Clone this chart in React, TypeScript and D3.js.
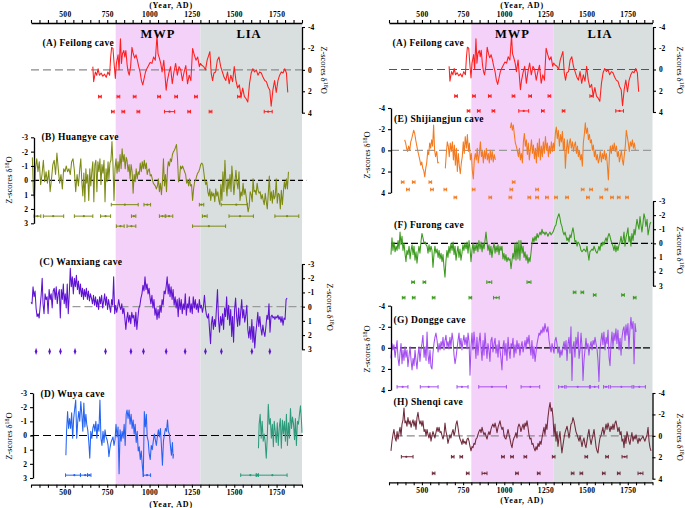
import React, { useEffect, useRef } from "react";
import * as d3 from "d3";

type Pt = [number, number];
type Bar = [number, number, number, number]; // lo, mid, hi, row (z)

// ---------- axis ticks ----------
const yearTicks = [300,350,400,450,500,550,600,650,700,750,800,850,900,950,1000,1050,1100,1150,1200,1250,1300,1350,1400,1450,1500,1550,1600,1650,1700,1750,1800,1850,1900];
const yearLabels = [500,750,1000,1250,1500,1750];
const ticks4 = [-4,-2,0,2,4];
const ticks3 = [-3,-2,-1,0,1,2,3];
const periods = [
  { name: "MWP", start: 800, end: 1300 },
  { name: "LIA", start: 1300, end: 1900 },
];

// ---------- (A) Feilong ----------
const feilong: Pt[] = [[665,-0.3],[670,1.1],[680,0.2],[688,0.5],[696,-0.1],[704,0.5],[714,0.3],[724,0.6],[734,0.4],[744,0.7],[754,0.2],[764,0.5],[770,-1.1],[776,-2.1],[784,-2.0],[792,-0.3],[798,0.8],[804,-0.6],[814,-1.4],[820,0.0],[828,-2.9],[834,-0.6],[840,-1.5],[848,-1.8],[854,-1.2],[860,-1.8],[868,-0.4],[874,0.2],[880,0.5],[888,-0.3],[896,-2.1],[904,-1.5],[912,-1.1],[920,-1.4],[928,-0.9],[936,-0.3],[944,0.2],[952,1.0],[960,1.4],[968,0.8],[976,0.2],[984,-0.1],[994,-0.4],[1004,-0.7],[1014,-0.6],[1024,-1.2],[1034,-0.9],[1044,-3.2],[1050,-1.5],[1058,-1.1],[1066,-0.6],[1074,0.2],[1084,-0.9],[1092,0.7],[1098,1.9],[1104,1.1],[1114,0.3],[1124,-0.3],[1134,1.3],[1144,0.2],[1154,-0.6],[1164,0.5],[1174,-0.3],[1184,0.0],[1194,1.0],[1204,0.2],[1214,-0.4],[1224,1.3],[1234,0.5],[1244,1.0],[1254,-2.0],[1264,-1.4],[1274,-0.9],[1284,-1.2],[1294,-0.3],[1300,-0.6],[1310,-0.4],[1320,-0.3],[1330,0.0],[1340,-0.9],[1350,-1.4],[1356,-1.7],[1364,0.3],[1372,1.0],[1380,0.3],[1390,0.2],[1400,-0.9],[1410,-1.2],[1420,-0.3],[1430,0.2],[1440,0.7],[1450,1.0],[1460,0.2],[1470,1.3],[1480,0.5],[1490,1.1],[1500,-0.3],[1510,1.0],[1520,1.7],[1530,1.4],[1540,2.5],[1550,1.7],[1560,2.5],[1570,2.7],[1580,3.0],[1590,1.3],[1600,0.3],[1610,-0.1],[1620,0.2],[1630,0.0],[1640,0.5],[1650,0.2],[1660,0.3],[1670,0.7],[1680,1.0],[1690,1.1],[1700,1.6],[1710,1.9],[1718,3.4],[1728,1.9],[1738,1.0],[1748,2.1],[1758,1.0],[1768,0.5],[1778,0.2],[1788,0.3],[1798,-0.1],[1808,0.3],[1816,2.1]];
const feilongAges: Bar[] = [[699,707,715,2.5],[808,816,824,2.5],[904,912,920,2.5],[1048,1056,1064,2.5],[1149,1157,1165,2.5],[1266,1274,1282,2.5],[1520,1530,1540,2.5],[775,783,791,3.9],[837,845,853,3.9],[926,934,942,3.9],[1088,1118,1148,3.9],[1226,1234,1242,3.9],[1352,1360,1368,3.9],[1677,1700,1724,3.9]];

// ---------- (B) Huangye ----------
const huangye: Pt[] = [[308,-1.6],[314,0.8],[320,1.3],[326,-0.8],[334,-1.5],[341,-0.6],[349,-1.3],[357,0.3],[365,-0.4],[373,-1.4],[381,0.1],[389,-0.6],[397,0.2],[405,-0.7],[413,0.8],[421,-0.1],[429,-1.1],[437,-1.4],[445,-0.4],[453,-1.9],[461,-0.8],[469,0.2],[477,-0.4],[485,0.6],[493,-0.8],[501,-0.6],[508,-1.0],[516,-0.6],[524,-0.8],[532,-0.4],[540,-1.3],[548,-1.5],[556,-0.7],[564,0.8],[572,-0.4],[580,0.4],[588,-0.8],[594,-1.5],[600,0.1],[606,1.1],[612,-0.5],[618,1.5],[624,-0.8],[629,0.2],[635,-0.4],[641,1.4],[647,-0.8],[653,0.4],[659,-0.6],[665,-1.3],[671,1.5],[677,-1.1],[683,-1.4],[689,0.8],[695,-1.3],[701,-0.6],[707,-1.5],[713,0.3],[719,-1.1],[725,-0.5],[731,-1.4],[737,1.5],[743,-0.8],[749,0.1],[755,-1.3],[760,-0.1],[766,-1.2],[772,-1.4],[778,-2.7],[784,-1.1],[790,1.4],[796,-0.8],[802,-1.5],[808,-0.5],[814,-1.3],[820,-0.6],[826,-1.8],[832,-0.8],[838,-2.2],[844,-1.3],[850,-1.8],[856,-0.8],[862,-1.6],[867,-1.4],[873,-0.6],[879,-1.1],[885,-0.1],[891,-1.1],[897,-0.6],[903,0.9],[909,-0.4],[915,0.1],[921,-0.8],[927,-0.1],[933,-0.6],[939,-0.4],[945,-1.2],[951,-0.6],[957,-1.3],[963,-0.8],[969,-1.4],[975,-0.8],[981,-1.2],[986,-0.4],[992,-0.7],[998,-0.8],[1004,-0.3],[1010,-0.4],[1016,-0.1],[1022,0.2],[1028,0.3],[1034,0.4],[1040,0.6],[1046,0.4],[1052,-0.1],[1058,0.8],[1064,0.2],[1070,1.0],[1076,0.1],[1082,-1.5],[1088,0.4],[1094,-0.4],[1100,0.8],[1106,-0.8],[1111,-1.3],[1117,-1.0],[1123,-1.5],[1129,-1.3],[1135,-1.8],[1141,-2.0],[1147,-2.1],[1153,-2.3],[1159,-2.5],[1165,-1.5],[1171,0.1],[1177,-0.1],[1183,-1.0],[1189,-0.8],[1195,-1.0],[1201,-0.8],[1207,-0.6],[1213,-0.4],[1219,0.2],[1225,0.0],[1231,0.4],[1236,-0.1],[1242,0.4],[1248,0.3],[1254,1.4],[1260,0.6],[1266,0.1],[1272,0.0],[1278,-0.3],[1284,-0.5],[1290,-0.6],[1296,-0.8],[1302,-1.1],[1308,-1.2],[1314,-1.1],[1320,-0.6],[1326,0.0],[1332,0.3],[1338,0.1],[1344,0.8],[1350,1.1],[1356,0.6],[1361,1.4],[1367,0.8],[1373,1.1],[1379,0.9],[1385,1.5],[1391,0.6],[1397,1.1],[1403,0.8],[1409,1.4],[1415,1.7],[1421,0.3],[1427,1.4],[1433,-0.6],[1439,0.8],[1445,-1.4],[1451,0.2],[1457,1.1],[1463,-0.1],[1469,0.6],[1475,-0.4],[1481,0.8],[1486,-1.0],[1492,0.0],[1498,1.0],[1504,0.1],[1510,-0.7],[1516,0.2],[1522,0.6],[1528,-0.6],[1534,1.4],[1540,0.8],[1546,1.1],[1552,0.2],[1558,1.0],[1564,0.6],[1570,1.1],[1576,1.7],[1582,2.2],[1588,1.8],[1594,0.8],[1600,1.0],[1606,1.5],[1611,-0.1],[1617,0.8],[1623,0.7],[1629,1.0],[1635,0.2],[1641,0.7],[1647,0.9],[1653,0.8],[1659,1.3],[1665,1.0],[1671,1.4],[1677,1.7],[1683,0.9],[1689,1.5],[1695,2.0],[1701,0.9],[1707,-0.3],[1713,1.4],[1719,0.8],[1725,1.6],[1731,0.7],[1736,1.3],[1742,1.1],[1748,-0.1],[1754,1.6],[1760,0.9],[1766,1.0],[1772,2.0],[1778,0.7],[1784,1.7],[1790,0.8],[1796,0.1],[1802,0.6],[1808,-0.1],[1814,0.6],[1820,-0.6]];
const huangyeAges: Bar[] = [[774,854,933,1.7],[967,987,1006,1.7],[1294,1306,1320,1.7],[1423,1512,1578,1.7],[318,338,358,2.5],[373,431,493,2.5],[556,612,665,2.5],[711,740,770,2.5],[893,907,919,2.5],[1058,1076,1092,2.5],[1096,1115,1137,2.5],[1312,1326,1340,2.5],[1469,1534,1613,2.5],[1740,1812,1881,2.5],[804,828,850,3.2],[867,893,919,3.2],[1254,1350,1449,3.2]];

// ---------- (C) Wanxiang ----------
const wanxiang: Pt[] = [[300,-0.3],[306,-0.2],[312,-1.4],[318,-0.7],[324,-1.1],[330,0.1],[336,0.7],[342,0.5],[348,0.8],[354,0.0],[360,-0.8],[366,-2.0],[371,-0.2],[377,0.5],[383,-0.9],[389,-0.5],[395,-0.7],[401,0.5],[407,-1.2],[413,-0.5],[419,-0.9],[425,0.1],[431,-1.1],[437,-1.3],[443,-0.5],[449,-1.4],[455,-0.2],[461,-0.9],[467,-1.2],[473,0.8],[479,-1.2],[485,-0.5],[491,-1.6],[496,-0.2],[502,-0.9],[508,0.1],[514,-1.6],[520,0.5],[526,-0.9],[532,-2.7],[538,-1.4],[544,-2.1],[550,-0.9],[556,-2.0],[562,-1.4],[568,-2.2],[574,-1.2],[580,-1.8],[586,-0.9],[592,-1.6],[598,-0.7],[604,-1.3],[610,-0.5],[615,-1.2],[621,-0.7],[627,-1.3],[633,-0.5],[639,-1.1],[645,-0.4],[651,-0.9],[657,-0.6],[663,-0.2],[669,-0.8],[675,-0.1],[681,-0.7],[687,0.0],[693,-0.5],[699,0.2],[705,-0.7],[711,-0.2],[717,-0.8],[723,0.1],[729,-0.4],[735,-0.9],[740,-0.1],[746,-0.7],[752,0.2],[758,-0.5],[764,0.0],[770,0.4],[776,-0.5],[782,-0.1],[788,-2.1],[794,0.5],[800,-0.1],[806,0.4],[812,0.0],[818,-0.5],[824,0.0],[830,0.2],[836,-0.2],[842,0.5],[848,0.1],[854,0.8],[860,1.6],[865,0.9],[871,0.4],[877,1.1],[883,0.6],[889,1.2],[895,0.4],[901,0.8],[907,0.6],[913,1.4],[919,0.4],[925,1.6],[931,0.8],[937,0.1],[943,-0.1],[949,-0.6],[955,-0.9],[961,-1.5],[967,-1.1],[973,-2.1],[979,-1.2],[985,-1.6],[991,-0.9],[997,-1.3],[1002,-0.7],[1008,-0.2],[1014,-0.8],[1020,0.1],[1026,-0.5],[1032,0.6],[1038,0.1],[1044,0.9],[1050,0.2],[1056,0.8],[1062,-0.1],[1068,0.4],[1074,-0.5],[1080,-0.1],[1086,-1.1],[1092,-0.9],[1098,-1.4],[1104,-2.1],[1110,-0.9],[1115,-1.6],[1121,-0.7],[1127,-1.4],[1133,-0.5],[1139,-1.2],[1145,-0.1],[1151,-0.7],[1157,0.1],[1163,-0.5],[1169,0.7],[1175,-0.6],[1181,0.2],[1187,-0.5],[1193,0.5],[1199,-0.2],[1205,0.2],[1211,-0.9],[1217,0.6],[1223,-0.2],[1229,0.1],[1235,-0.7],[1240,0.4],[1246,-0.2],[1252,0.5],[1258,-0.7],[1264,0.1],[1270,-0.5],[1276,0.2],[1282,-0.2],[1288,0.4],[1294,-0.5],[1300,0.1],[1306,-0.1],[1312,0.4],[1318,0.0],[1324,-0.8],[1330,0.1],[1336,0.6],[1342,0.8],[1348,0.5],[1354,1.6],[1360,2.6],[1365,1.2],[1371,0.7],[1377,1.6],[1383,0.9],[1389,1.4],[1395,0.1],[1401,-1.2],[1407,0.9],[1413,1.8],[1419,0.7],[1425,1.3],[1431,0.5],[1437,1.6],[1443,0.1],[1449,0.7],[1455,-0.7],[1461,0.9],[1467,-0.1],[1473,1.3],[1479,0.2],[1485,2.1],[1490,0.7],[1496,2.5],[1502,0.2],[1508,-0.6],[1514,0.7],[1520,1.4],[1526,0.1],[1532,1.3],[1538,0.4],[1544,-0.5],[1550,0.8],[1556,0.2],[1562,1.1],[1568,0.6],[1574,-0.1],[1580,1.6],[1586,2.2],[1592,1.4],[1598,2.3],[1604,0.9],[1610,2.5],[1615,1.4],[1621,2.9],[1627,1.9],[1633,1.2],[1639,0.4],[1645,1.4],[1651,0.7],[1657,1.5],[1663,2.0],[1669,1.3],[1675,1.8],[1681,2.1],[1687,1.4],[1693,0.6],[1699,0.9],[1705,-0.2],[1711,1.8],[1717,0.7],[1723,0.6],[1729,0.8],[1735,0.7],[1740,0.9],[1746,0.7],[1752,0.8],[1758,0.6],[1764,0.9],[1770,0.7],[1776,1.1],[1782,0.7],[1788,1.3],[1794,0.8],[1800,0.9],[1806,-0.5],[1812,-0.6]];
const wanxiangAgeYears = [330,410,474,560,740,890,964,1098,1210,1330,1424,1604,1710];
const wanxiangAgeRow = 3.15;

// ---------- (D) Wuya ----------
const wuyaEarly: Pt[] = [[506,1.4],[510,-0.3],[516,-1.7],[522,-0.5],[528,-1.2],[534,-0.5],[540,-1.6],[546,0.2],[552,-1.2],[558,-1.9],[564,-2.5],[570,0.2],[576,-1.0],[582,-1.7],[588,-1.0],[594,-2.4],[600,-1.5],[606,-0.3],[612,-2.3],[618,-0.6],[624,-1.5],[629,-0.8],[635,-0.4],[641,0.4],[647,1.6],[653,-0.3],[659,0.2],[665,-0.5],[671,-0.8],[677,-0.3],[683,-1.0],[689,0.2],[695,-0.8],[701,-0.3],[707,-2.5],[713,0.2],[719,0.7],[725,-0.3],[731,0.5],[737,-0.4],[743,0.1],[749,0.3],[755,0.7],[760,1.5],[766,0.9],[772,0.5],[778,0.3],[784,0.1],[790,0.7],[796,0.3],[802,-0.8],[808,0.1],[814,-0.6],[820,2.7],[826,-0.4],[832,0.4],[838,-0.3],[844,0.2],[850,-0.8],[856,0.7],[862,-1.5],[867,-1.8],[873,-1.2],[879,-1.8],[885,-0.8],[891,-1.5],[897,-0.5],[903,-1.1],[909,-0.1],[915,-0.8],[921,0.5],[927,-0.3],[933,1.1],[939,0.8],[945,1.7],[951,1.1],[957,2.1],[963,2.9],[969,-1.7],[975,-0.6],[981,-1.5],[986,0.1],[992,0.4],[998,1.3],[1004,1.7],[1010,0.7],[1016,1.0],[1022,0.4],[1028,-0.1],[1034,0.3],[1040,0.7],[1046,0.1],[1052,-0.4],[1058,0.1],[1064,-0.5],[1070,0.7],[1076,2.1],[1082,0.4],[1088,-0.1],[1094,-0.5],[1100,-0.3],[1106,-1.1],[1111,-0.3],[1117,-0.1],[1123,0.7],[1129,1.4],[1135,0.5],[1139,1.6],[1141,1.3]];
const wuyaLate: Pt[] = [[1643,0.9],[1647,-0.8],[1653,-1.5],[1659,0.2],[1665,-1.0],[1671,0.4],[1677,-0.1],[1683,0.5],[1689,1.6],[1695,0.1],[1701,-2.2],[1707,-0.8],[1713,-1.2],[1719,0.2],[1725,-0.8],[1731,0.8],[1736,-1.0],[1742,-0.3],[1748,0.5],[1754,-0.9],[1760,0.7],[1766,-0.6],[1772,-1.2],[1778,0.9],[1784,-1.1],[1790,-0.1],[1796,-1.0],[1802,0.4],[1808,-1.5],[1814,0.7],[1820,-0.9],[1826,0.2],[1832,-1.9],[1838,-0.5],[1844,-1.3],[1850,-0.8],[1856,0.3],[1861,-1.2],[1867,0.7],[1873,-1.0],[1879,-0.8],[1885,-1.5],[1891,-2.1],[1897,-1.0],[1900,-0.2]];
const wuyaEarlyAges: Bar[] = [[504,556,592,2.8],[592,620,634,2.8],[634,644,654,2.8],[963,985,1006,2.8]];
const wuyaLateAges: Bar[] = [[1538,1595,1630,2.8],[1630,1636,1642,2.8],[1642,1725,1812,2.8]];

// ---------- (E) Shijiangjun ----------
const shijiangjun1: Pt[] = [[395,-1.0],[401,-0.7],[407,-0.2],[413,0.1],[419,-0.4],[426,0.0],[432,-0.8],[438,-1.1],[444,-1.5],[450,-1.9],[456,-1.6],[462,-1.0],[468,-0.5],[474,0.0],[480,0.4],[487,0.9],[493,1.4],[499,1.1],[505,1.7],[511,1.9],[517,2.5],[523,1.7],[529,1.2],[535,0.1],[541,0.4],[547,-0.7],[553,-0.2],[559,-1.0],[565,-0.4],[571,-2.4],[577,0.0],[583,0.6],[590,0.1],[596,1.2],[602,1.1]];
const shijiangjun2: Pt[] = [[642,1.7],[648,0.3],[654,-0.8],[660,-0.4],[666,0.6],[672,-0.7],[678,0.1],[685,-0.8],[691,0.9],[697,-0.5],[703,1.4],[709,-0.2],[715,2.0],[721,0.3],[727,1.5],[733,2.2],[739,1.2],[745,0.6],[751,-0.8],[757,0.3],[763,-1.3],[770,-0.2],[776,-1.5],[782,0.1],[788,-0.7],[794,0.9],[800,0.3],[806,1.9],[812,2.7],[818,0.9],[824,0.3],[830,0.9],[836,-0.2],[842,1.2],[848,0.4],[855,-0.8],[861,0.6],[867,0.1],[873,1.2],[879,0.0],[885,0.8],[891,-0.2],[897,0.9],[903,0.3],[909,1.2],[915,0.0],[921,0.9],[927,0.1],[933,1.1],[939,0.4],[946,0.9]];
const shijiangjun3: Pt[] = [[1037,-2.1],[1043,-2.6],[1049,-1.9],[1055,-2.4],[1061,-1.5],[1067,-0.7],[1073,-0.4],[1080,0.1],[1086,0.6],[1092,-0.2],[1098,0.9],[1104,0.3],[1110,1.2],[1116,-0.8],[1122,-1.6],[1128,-0.4],[1134,-1.0],[1140,0.4],[1146,-0.7],[1152,0.9],[1158,0.0],[1165,-1.0],[1171,0.3],[1177,-0.5],[1183,0.8],[1189,-0.2],[1195,1.2],[1201,-0.7],[1207,0.6],[1213,-1.1],[1219,0.9],[1225,-0.4],[1231,0.6],[1237,-0.8],[1243,0.3],[1250,-1.3],[1256,0.0],[1262,-0.7],[1268,0.6],[1274,-0.4],[1280,0.3],[1286,-0.8],[1292,0.1],[1298,-0.7],[1304,0.0],[1310,-1.6],[1316,-2.2],[1322,-1.1],[1328,-1.9],[1335,-0.4],[1341,-1.5],[1347,-0.8],[1353,-1.8],[1359,0.0],[1365,-1.1],[1371,1.7],[1377,0.0],[1383,-1.0],[1389,0.3],[1395,-0.7],[1401,-1.1],[1407,-0.2],[1414,-0.8],[1420,0.1],[1426,-0.5],[1432,-0.8],[1438,0.3],[1444,-0.4],[1450,0.6],[1456,0.0],[1462,0.9],[1468,0.4],[1474,1.5],[1480,-0.7],[1486,-1.5],[1492,-2.6],[1498,-1.6],[1505,-2.1],[1511,-1.0],[1517,-1.5],[1523,-0.7],[1529,-1.0],[1535,0.0],[1541,-0.5],[1547,0.6],[1553,0.0],[1559,0.9],[1565,0.4],[1571,1.2],[1577,0.8],[1583,0.1],[1590,1.1],[1596,0.3],[1602,0.8],[1608,0.0],[1614,0.9],[1620,0.3],[1626,1.4],[1632,2.8],[1638,0.6],[1644,-0.4],[1650,0.3],[1656,-0.5],[1662,0.0],[1668,-0.7],[1674,0.1],[1681,-0.4],[1687,0.6],[1693,0.1],[1699,1.1],[1705,0.6],[1711,0.0],[1717,0.9],[1723,1.4],[1729,0.4],[1735,-0.4],[1741,-1.9],[1747,-1.3],[1753,-0.7],[1759,0.1],[1766,-0.8],[1772,-0.4],[1778,-1.0],[1784,-0.2],[1790,-0.7],[1796,0.0]];
const shijiangjunAges: Bar[] = [[375,383,391,3.0],[442,450,458,3.0],[543,551,559,3.0],[1049,1057,1065,3.0],[407,415,423,3.7],[553,561,569,3.7],[634,642,650,3.7],[806,814,822,3.7],[1035,1043,1051,3.7],[1191,1199,1207,3.7],[1468,1476,1484,3.7],[1519,1527,1535,3.7],[1612,1620,1628,3.7],[695,703,711,4.45],[907,915,923,4.45],[1029,1037,1045,4.45],[1144,1152,1160,4.45],[1191,1199,1207,4.45],[1251,1259,1267,4.45],[1306,1314,1322,4.45],[1373,1381,1389,4.45],[1500,1508,1516,4.45],[1581,1589,1597,4.45],[1646,1654,1662,4.45],[1687,1695,1703,4.45],[1737,1745,1753,4.45]];

// ---------- shared sample years for F, G, H ----------
const sampleYears = [312,318,324,330,337,343,349,355,361,367,373,379,385,391,397,403,409,415,422,428,434,440,446,452,458,464,470,476,482,488,494,500,506,513,519,525,531,537,543,549,555,561,567,573,579,585,592,598,604,610,616,622,628,634,640,646,652,658,664,670,676,683,689,695,701,707,713,719,725,731,737,743,749,755,761,768,774,780,786,792,798,804,810,816,822,828,834,840,846,853,859,865,871,877,883,889,895,901,907,913,919,925,931,938,944,950,956,962,968,974,980,986,992,998,1004,1010,1016,1023,1029,1035,1041,1047,1053,1059,1065,1071,1077,1083,1089,1095,1101,1108,1114,1120,1126,1132,1138,1144,1150,1156,1162,1168,1174,1180,1187,1193,1199,1205,1211,1217,1223,1229,1235,1241,1247,1253,1259,1265,1272,1278,1284,1290,1296,1302,1308,1314,1320,1326,1332,1338,1344,1350,1357,1363,1369,1375,1381,1387,1393,1399,1405,1411,1417,1423,1429,1435,1442,1448,1454,1460,1466,1472,1478,1484,1490,1496,1502,1508,1514,1520,1527,1533,1539,1545,1551,1557,1563,1569,1575,1581,1587,1593,1599,1605,1612,1618,1624,1630,1636,1642,1648,1654,1660,1666,1672,1678,1684,1690,1697,1703,1709,1715,1721,1727,1733,1739,1745,1751,1757,1763,1769,1775,1782,1788,1794,1800,1806,1812,1818,1824,1830,1836,1842,1848,1854,1860,1867,1873,1879,1885,1891];

// ---------- (F) Furong ----------
const furongZ = [0.8,-0.4,0.5,-0.1,0.6,0.2,0.5,-0.2,0.4,-0.8,0.1,-0.5,0.5,0.0,0.7,1.3,0.5,0.8,0.2,1.1,0.5,0.1,0.8,0.2,1.2,0.6,1.4,0.7,0.2,0.7,-0.1,-0.7,-0.4,0.0,-0.1,0.1,0.2,0.7,0.1,0.6,0.2,0.5,1.7,0.8,0.2,0.7,0.4,1.0,0.5,1.1,0.7,1.3,0.8,1.7,2.4,1.2,0.5,1.0,0.2,0.7,0.0,0.5,-0.1,0.8,0.2,1.2,0.6,0.2,1.0,0.4,1.2,0.7,0.1,0.5,0.0,0.4,-0.1,0.7,-0.2,0.4,1.3,0.5,0.0,0.7,0.1,0.5,0.0,0.6,-0.2,0.4,-0.1,0.6,0.0,0.4,-0.2,-0.8,-0.1,0.5,0.1,0.8,0.2,1.0,0.4,0.0,0.7,0.2,0.6,0.1,0.8,0.2,0.5,0.2,1.1,0.7,1.2,0.8,1.3,1.0,1.2,1.1,1.8,1.2,0.7,1.1,0.0,1.2,-0.1,1.1,-0.2,1.2,-0.2,0.7,0.2,1.0,0.6,1.2,0.8,1.4,1.0,1.3,0.7,0.0,-0.4,-0.1,-0.5,-0.2,-0.7,-0.4,-0.6,-0.8,-0.6,-1.0,-0.7,-0.8,-0.6,-0.8,-0.7,-0.5,-0.7,-0.8,-0.6,-0.7,-0.8,-1.0,-1.2,-1.3,-1.7,-1.9,-2.1,-1.8,-1.4,-1.2,-0.8,-0.6,-0.8,-0.5,-0.2,-0.4,-0.1,-0.6,-0.4,-0.8,-1.1,-0.7,-0.1,-0.2,0.2,-0.1,0.0,0.2,0.5,0.6,0.5,0.4,0.5,0.6,0.2,0.7,1.2,0.6,0.5,0.4,0.5,0.2,0.4,0.6,0.7,0.5,0.2,0.5,0.0,0.2,-0.1,0.1,-0.2,-0.4,-0.1,-0.5,-0.7,-0.5,-0.2,0.0,0.2,0.5,0.1,0.6,0.2,0.5,0.1,-0.1,-0.5,0.0,-0.2,-0.8,0.2,-0.4,-0.7,-1.1,-0.1,-0.5,0.2,-0.7,-0.2,-1.0,-0.6,-1.2,-1.7,-1.3,-1.0,-1.9,-1.3,-0.8,-1.4,-2.1,-1.8,-1.2,-1.7,-0.6,-1.0,-1.4,-1.5];
const furongAges: Bar[] = [[438,446,454,2.75],[507,515,523,2.75],[894,909,924,2.75],[1138,1150,1162,2.75],[381,389,397,3.85],[442,450,458,3.85],[563,571,579,3.85],[786,794,802,3.85],[935,952,969,3.85],[1419,1427,1435,3.47],[1466,1474,1482,3.47],[1541,1549,1557,3.66],[1713,1721,1729,3.66],[1784,1792,1800,3.85]];

// ---------- (G) Dongge ----------
const donggeZ = [1.0,-0.4,0.2,-0.3,0.9,0.1,-0.7,1.0,1.7,0.5,-0.4,1.5,0.2,1.2,-0.1,0.9,0.2,1.8,0.7,-0.1,1.2,2.1,1.0,1.7,0.2,1.2,2.0,0.7,-0.1,1.3,0.2,-0.4,-1.2,0.9,-0.1,1.2,-1.5,0.7,1.5,0.2,1.8,2.0,0.5,-0.4,-1.0,-1.4,-0.7,0.4,-0.4,0.2,-0.6,-0.1,-1.0,0.2,-0.7,-1.2,-0.1,-0.6,0.1,-1.0,-0.1,-1.4,-0.7,0.7,1.5,0.9,0.1,-0.7,-1.4,-0.1,-0.9,0.2,-0.6,-1.2,-0.3,-1.0,0.1,-1.4,-0.6,2.6,-0.1,-1.4,0.2,-1.5,-0.4,1.0,-1.0,0.7,-0.4,-1.4,0.1,1.2,-0.7,0.7,-1.4,-0.1,1.0,-0.4,0.2,1.3,-0.7,-1.0,0.4,-0.4,-0.9,0.5,-0.3,0.9,-0.7,0.2,1.0,2.1,-0.1,-0.7,0.7,-0.4,1.2,-1.0,0.2,1.0,-0.4,-0.1,-0.9,0.9,-0.3,0.5,-0.7,0.1,-0.4,0.7,-0.1,-0.6,0.4,-0.1,-0.7,0.1,-1.0,-0.4,-1.2,-0.1,0.7,-0.7,1.0,-0.1,1.3,0.4,-0.4,-0.9,-1.4,-1.2,-1.7,-1.4,-2.0,-1.5,-2.3,-1.8,-1.5,-2.0,-0.7,-0.1,0.4,-0.4,0.1,0.5,-0.7,-1.0,-0.4,0.5,-0.1,0.9,0.2,0.7,-0.1,-0.6,0.2,-0.7,1.2,-0.4,-1.0,0.5,-2.0,3.1,-0.1,-0.6,0.9,-1.0,-0.1,-1.5,1.0,0.2,-1.4,-0.1,3.1,1.2,0.2,-0.9,0.1,-0.4,0.7,-0.1,-0.6,0.2,-0.7,-0.3,-1.0,-0.4,0.1,1.2,3.2,0.2,-0.7,-1.4,-0.3,-1.5,0.2,-1.0,-0.4,-1.7,0.9,1.7,-0.4,-1.5,-0.1,-1.4,-0.7,-1.8,-0.4,-1.7,0.2,-0.9,0.7,-1.0,-1.7,-2.0,-0.7,-2.2,-1.2,-2.3,0.1,-1.7,-2.9,-1.8,-2.5,1.5,-2.3,-1.5];
const donggeAges: Bar[] = [[349,383,415,3.7],[490,541,598,3.7],[713,743,780,3.7],[845,925,1013,3.7],[1102,1158,1215,3.7],[1330,1351,1367,3.7],[1375,1446,1517,3.7],[1523,1549,1573,3.7],[1603,1618,1634,3.7],[1644,1711,1776,3.7],[1786,1820,1857,3.7]];

// ---------- (H) Shenqi ----------
const shenqiZ = [1.4,0.5,-0.1,-0.6,0.2,0.5,-0.4,0.3,-0.3,-0.8,0.0,-1.1,-1.5,-2.6,-1.2,-1.4,-0.9,-1.7,-1.1,-1.4,-0.8,-1.2,-1.5,-0.9,-1.4,-0.6,-1.7,-2.2,-1.5,-1.1,-1.4,-0.9,-1.4,-0.4,-0.6,0.0,-0.6,-0.1,0.2,-0.3,0.5,0.0,-0.4,-0.1,0.2,-0.3,-0.8,-0.4,-0.8,-0.3,-0.4,0.0,0.3,-0.1,-1.2,-0.4,0.0,0.7,0.3,-0.1,0.2,-0.3,-0.6,0.0,-0.4,-1.1,-1.4,-0.8,-0.1,0.3,0.5,0.8,0.3,0.7,0.5,0.8,0.3,0.2,0.5,1.0,1.4,1.0,1.1,0.7,0.8,0.3,0.2,-0.1,-0.4,-0.6,-0.3,-0.8,-0.4,-0.1,-0.3,0.0,0.3,-0.1,-0.4,-0.1,-0.6,-0.9,-1.1,-0.8,-1.2,-0.8,-0.3,-0.8,-1.1,-1.4,-0.9,-0.6,-0.8,-0.1,0.2,0.3,-0.1,-0.6,-0.1,0.3,0.8,1.1,0.5,0.2,0.0,-0.3,0.2,-0.8,-1.1,-0.9,-0.4,-0.8,-1.1,-0.6,-1.2,-0.9,-1.4,-0.8,-0.1,0.3,0.2,0.8,0.7,1.1,1.4,1.0,1.3,0.7,1.0,0.5,0.8,0.2,-0.3,-0.8,-0.1,-1.1,-0.6,-1.7,-2.6,-3.1,-2.3,-2.6,-1.7,0.0,-1.1,0.5,-0.4,1.0,0.2,-0.4,0.7,1.6,0.8,0.2,-0.3,-0.6,-0.9,-0.4,0.2,-0.4,-1.1,-1.2,-1.7,-1.4,-0.9,-0.4,-0.1,0.2,0.5,0.0,0.5,1.0,0.5,0.2,0.8,1.1,0.5,-0.1,-0.6,0.2,0.8,0.3,-0.1,-0.6,0.2,1.0,1.4,1.6,0.8,0.2,0.0,-0.4,-0.8,-0.1,-0.6,-1.1,-0.6,-1.2,-0.8,-0.4,-0.9,-0.6,-1.1,-0.6,-1.2,-1.4,-0.9,-0.4,-0.8,-0.1,-0.4,0.5,0.3,1.1,0.0,0.7,-0.4,0.0,0.5,0.8,0.2,-0.3,0.5,0.0,0.3,-0.1,0.3,0.7,0.2,0.5,0.3,0.2,0.0,0.3,0.5,0.2,-0.1,-0.8,0.5,1.1,1.4];
const shenqiAges: Bar[] = [[375,405,446,1.95],[679,687,695,1.95],[731,739,747,1.95],[984,992,1000,1.95],[1039,1047,1055,1.95],[1120,1128,1136,1.95],[1292,1300,1308,1.95],[1490,1498,1506,1.95],[1616,1624,1632,1.95],[1715,1731,1745,1.95],[563,571,579,3.5],[770,778,786,3.5],[865,881,895,3.5],[1069,1077,1085,3.5],[1201,1209,1217,3.5],[1407,1415,1423,3.5],[1460,1468,1476,3.5],[1596,1604,1612,3.5],[1687,1695,1703,3.5],[1812,1827,1842,3.5]];

// ---------- colours ----------
const C = {
  red: "#ff1d1d", olive: "#7d8a12", purple: "#5f12d2", blue: "#2563f2", teal: "#2d9a7c",
  orange: "#f47a1f", green: "#3a9a1c", violet: "#a44ef0", brown: "#6f2a3b",
  mwp: "#f3d1f8", lia: "#d9dfdf",
};
const FONT = "'Liberation Serif','Times New Roman',serif";

const zip = (ys: number[], zs: number[]): Pt[] => zs.map((z, i) => [ys[i], z] as Pt);

export default function App() {
  const ref = useRef<SVGSVGElement>(null);
  useEffect(() => {
    const svg = d3.select(ref.current!);
    svg.selectAll("*").remove();

    const xL = d3.scaleLinear().domain([300, 1900]).range([31, 302]);
    const xR = d3.scaleLinear().domain([300, 1900]).range([389, 652.5]);

    const drawBands = (x: any, y0: number, y1: number) => {
      const g = svg.append("g");
      periods.forEach((p, i) => {
        g.append("rect").attr("x", x(p.start)).attr("y", y0).attr("width", x(p.end) - x(p.start)).attr("height", y1 - y0)
          .attr("fill", i === 0 ? C.mwp : C.lia);
      });
    };
    drawBands(xL, 23, 484.7);
    drawBands(xR, 23, 482.3);

    const styleAxis = (g: any, fs: number) => {
      g.select(".domain").attr("stroke", "#000").attr("stroke-width", 1.3);
      g.selectAll(".tick line").attr("stroke", "#000").attr("stroke-width", 1.1);
      g.selectAll("text").attr("font-family", FONT).attr("font-weight", "bold").attr("font-size", fs).attr("fill", "#000");
    };

    const xAxes = (x: any, topY: number, botY: number, titleX: number, botTitleY: number) => {
      const fmt = (d: any) => (yearLabels.includes(+d) ? String(d) : "");
      const top = svg.append("g").attr("transform", `translate(0,${topY})`)
        .call(d3.axisTop(x).tickValues(yearTicks).tickFormat(fmt).tickSize(3).tickSizeOuter(0).tickPadding(3));
      styleAxis(top, 7.5);
      top.selectAll("text").attr("letter-spacing", 0.3);
      const bot = svg.append("g").attr("transform", `translate(0,${botY})`)
        .call(d3.axisBottom(x).tickValues(yearTicks).tickFormat(fmt).tickSize(3).tickSizeOuter(0).tickPadding(2));
      styleAxis(bot, 7.5);
      bot.selectAll("text").attr("letter-spacing", 0.3);
      [[8, titleX], [botTitleY, titleX]].forEach(([yy, xx]) => {
        svg.append("text").attr("x", xx).attr("y", yy).attr("text-anchor", "middle")
          .attr("font-family", FONT).attr("font-weight", "bold").attr("font-size", 8).attr("letter-spacing", 0.8)
          .text("(Year, AD)");
      });
    };

    type Panel = {
      x: any; yDomain: [number, number]; yRange: [number, number]; ticks: number[];
      side: "left" | "right"; axisX: number; zero: [number, number]; zeroColor: string; dash: string;
      lines: { data: Pt[]; color: string }[]; bars: { data: Bar[]; color: string }[];
      diamonds?: { years: number[]; row: number; color: string };
      label: string; labelX: number; labelY: number; titleX: number; titleY: number;
    };

    const drawPanel = (p: Panel) => {
      const y = d3.scaleLinear().domain(p.yDomain).range(p.yRange);
      const g = svg.append("g");
      g.append("line").attr("x1", p.x(p.zero[0])).attr("x2", p.x(p.zero[1])).attr("y1", y(0)).attr("y2", y(0))
        .attr("stroke", p.zeroColor).attr("stroke-width", 1.2).attr("stroke-dasharray", p.dash);
      const line = d3.line<Pt>().x((d) => p.x(d[0])).y((d) => y(d[1]));
      p.lines.forEach((s) => {
        g.append("path").attr("d", line(s.data)!).attr("fill", "none").attr("stroke", s.color)
          .attr("stroke-width", 1.05).attr("stroke-linejoin", "round");
      });
      p.bars.forEach((b) => {
        b.data.forEach(([lo, mid, hi, row]) => {
          const yy = y(row);
          g.append("line").attr("x1", p.x(lo)).attr("x2", p.x(hi)).attr("y1", yy).attr("y2", yy).attr("stroke", b.color).attr("stroke-width", 1);
          [lo, hi].forEach((v) => g.append("line").attr("x1", p.x(v)).attr("x2", p.x(v)).attr("y1", yy - 1.8).attr("y2", yy + 1.8)
            .attr("stroke", b.color).attr("stroke-width", 1));
          g.append("circle").attr("cx", p.x(mid)).attr("cy", yy).attr("r", 1.1).attr("fill", b.color);
        });
      });
      if (p.diamonds) {
        const sym = d3.symbol().type(d3.symbolDiamond).size(9);
        p.diamonds.years.forEach((yr) => {
          g.append("path").attr("d", sym()!).attr("transform", `translate(${p.x(yr)},${y(p.diamonds!.row)}) scale(0.8,1.3)`)
            .attr("fill", p.diamonds!.color);
        });
      }
      const axis = (p.side === "left" ? d3.axisLeft(y) : d3.axisRight(y))
        .tickValues(p.ticks).tickFormat((d: any) => String(d)).tickSize(3).tickSizeOuter(0).tickPadding(3);
      const ga = g.append("g").attr("transform", `translate(${p.axisX},0)`).call(axis as any);
      styleAxis(ga, 7.5);
      g.append("text").attr("x", p.labelX).attr("y", p.labelY).attr("font-family", FONT).attr("font-weight", "bold")
        .attr("font-size", 9.5).attr("letter-spacing", 0.35).text(p.label);
      const t = g.append("text").attr("transform", `translate(${p.titleX},${p.titleY}) rotate(${p.side === "left" ? -90 : 90})`)
        .attr("text-anchor", "middle").attr("font-family", FONT).attr("font-size", 8.5).attr("fill", "#000");
      t.append("tspan").text("Z-scores δ");
      t.append("tspan").attr("dy", -3).attr("font-size", 6).text("18");
      t.append("tspan").attr("dy", 3).text("O");
    };

    // ---- left column ----
    drawPanel({ x: xL, yDomain: [-4, 4], yRange: [27, 112.7], ticks: ticks4, side: "right", axisX: 302, zero: [300, 1900], zeroColor: "#8a8a8a", dash: "8,4",
      lines: [{ data: feilong, color: C.red }], bars: [{ data: feilongAges, color: C.red }],
      label: "(A) Feilong cave", labelX: 42.5, labelY: 45.5, titleX: 321, titleY: 70 });
    drawPanel({ x: xL, yDomain: [-3, 3], yRange: [137.3, 223.3], ticks: ticks3, side: "left", axisX: 34, zero: [318, 1925], zeroColor: "#000", dash: "5,3",
      lines: [{ data: huangye, color: C.olive }], bars: [{ data: huangyeAges, color: C.olive }],
      label: "(B) Huangye cave", labelX: 41.5, labelY: 139.5, titleX: 11.5, titleY: 180 });
    drawPanel({ x: xL, yDomain: [-3, 3], yRange: [264, 349.3], ticks: ticks3, side: "right", axisX: 302, zero: [545, 1900], zeroColor: "#9a9a9a", dash: "8,4",
      lines: [{ data: wanxiang, color: C.purple }], bars: [], diamonds: { years: wanxiangAgeYears, row: wanxiangAgeRow, color: C.purple },
      label: "(C) Wanxiang cave", labelX: 39.5, labelY: 265, titleX: 327, titleY: 307 });
    drawPanel({ x: xL, yDomain: [-3, 3], yRange: [393, 478], ticks: ticks3, side: "left", axisX: 33, zero: [300, 1920], zeroColor: "#000", dash: "8,4",
      lines: [{ data: wuyaEarly, color: C.blue }, { data: wuyaLate, color: C.teal }],
      bars: [{ data: wuyaEarlyAges, color: C.blue }, { data: wuyaLateAges, color: C.teal }],
      label: "(D) Wuya cave", labelX: 40.5, labelY: 396.5, titleX: 11.5, titleY: 436 });

    // ---- right column ----
    drawPanel({ x: xR, yDomain: [-4, 4], yRange: [27, 112], ticks: ticks4, side: "right", axisX: 653, zero: [300, 1900], zeroColor: "#555", dash: "8,4",
      lines: [{ data: feilong, color: C.red }], bars: [{ data: feilongAges, color: C.red }],
      label: "(A) Feilong cave", labelX: 392.5, labelY: 46, titleX: 677, titleY: 70 });
    drawPanel({ x: xR, yDomain: [-4, 4], yRange: [108, 192.7], ticks: ticks4, side: "left", axisX: 391, zero: [312, 1900], zeroColor: "#9a9a9a", dash: "8,4",
      lines: [{ data: shijiangjun1, color: C.orange }, { data: shijiangjun2, color: C.orange }, { data: shijiangjun3, color: C.orange }],
      bars: [{ data: shijiangjunAges, color: C.orange }],
      label: "(E) Shijiangjun cave", labelX: 394, labelY: 121.5, titleX: 370, titleY: 155 });
    drawPanel({ x: xR, yDomain: [-3, 3], yRange: [201, 285.7], ticks: ticks3, side: "right", axisX: 653, zero: [312, 1900], zeroColor: "#000", dash: "7,3",
      lines: [{ data: zip(sampleYears, furongZ), color: C.green }], bars: [{ data: furongAges, color: C.green }],
      label: "(F) Furong cave", labelX: 394, labelY: 227.5, titleX: 677, titleY: 250 });
    drawPanel({ x: xR, yDomain: [-4, 4], yRange: [305.7, 390], ticks: ticks4, side: "left", axisX: 391, zero: [312, 1895], zeroColor: "#000", dash: "7,2",
      lines: [{ data: zip(sampleYears, donggeZ), color: C.violet }], bars: [{ data: donggeAges, color: C.violet }],
      label: "(G) Dongge cave", labelX: 393.5, labelY: 322.5, titleX: 370, titleY: 349 });
    drawPanel({ x: xR, yDomain: [-4, 4], yRange: [393, 478.7], ticks: ticks4, side: "right", axisX: 652.5, zero: [335, 1900], zeroColor: "#8a8a8a", dash: "8,4",
      lines: [{ data: zip(sampleYears, shenqiZ), color: C.brown }], bars: [{ data: shenqiAges, color: C.brown }],
      label: "(H) Shenqi cave", labelX: 393.5, labelY: 405, titleX: 677, titleY: 437 });

    // period labels
    const periodLabel = (name: string, cx: number) => {
      svg.append("text").attr("x", cx).attr("y", 37.5).attr("text-anchor", "middle").attr("font-family", FONT)
        .attr("font-weight", "bold").attr("font-size", 12.5).attr("letter-spacing", 1).text(name);
    };
    periodLabel("MWP", (xL(800) + xL(1300)) / 2);
    periodLabel("LIA", 249);
    periodLabel("MWP", (xR(800) + xR(1300)) / 2);
    periodLabel("LIA", 600);

    xAxes(xL, 23, 484.7, 171, 507);
    xAxes(xR, 23, 482.3, 522, 502.5);
  }, []);

  return (
    <svg ref={ref} width={685} height={508}
      style={{ position: "absolute", left: 0, top: 0, background: "#fff", display: "block" }} />
  );
}
